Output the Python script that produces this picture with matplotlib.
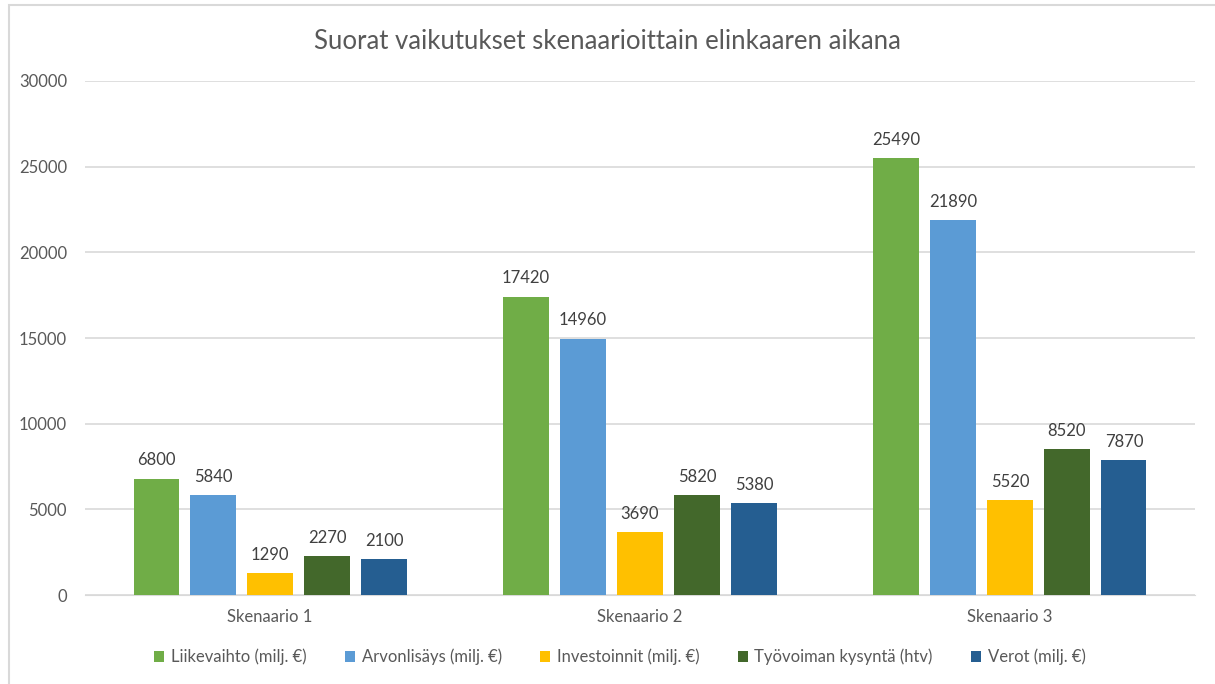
import numpy as np
import matplotlib.pyplot as plt
from matplotlib.patches import Rectangle

plt.rcParams['font.family'] = ['Lato', 'DejaVu Sans']

categories = ['Skenaario 1', 'Skenaario 2', 'Skenaario 3']
series_names = ['Liikevaihto (milj. €)', 'Arvonlisäys (milj. €)', 'Investoinnit (milj. €)',
                'Työvoiman kysyntä (htv)', 'Verot (milj. €)']
liikevaihto = [6800, 17420, 25490]
arvonlisays = [5840, 14960, 21890]
investoinnit = [1290, 3690, 5520]
tyovoima = [2270, 5820, 8520]
verot = [2100, 5380, 7870]
colors = ['#70AD47', '#5B9BD5', '#FFC000', '#43682B', '#255E91']

series = [liikevaihto, arvonlisays, investoinnit, tyovoima, verot]

fig = plt.figure(figsize=(12.15, 6.84), dpi=100)
ax = fig.add_axes([0.07, 0.13, 0.9135, 0.7516])

x = np.arange(len(categories))
step = 0.154
width = 0.122
text_col = '#595959'
for i, (vals, name, c) in enumerate(zip(series, series_names, colors)):
    pos = x + (i - 2) * step
    bars = ax.bar(pos, vals, width, color=c, label=name, zorder=3)
    for b, v in zip(bars, vals):
        ax.text(b.get_x() + b.get_width() / 2, v + 600, str(v), ha='center', va='bottom',
                fontsize=12, color='#404040')

ax.set_xlim(-0.5, 2.5)
ax.set_ylim(0, 30000)
ax.set_yticks(np.arange(0, 30001, 5000))
ax.set_xticks(x)
ax.set_xticklabels(categories)
ax.yaxis.grid(True, color='#D9D9D9', linewidth=1.2, zorder=0)
for s in ax.spines.values():
    s.set_visible(False)
ax.spines['bottom'].set_visible(True)
ax.spines['bottom'].set_color('#D9D9D9')
ax.tick_params(axis='both', length=0, labelsize=12, colors=text_col)
ax.tick_params(axis='y', pad=13)
ax.tick_params(axis='x', pad=10)

fig.suptitle('Suorat vaikutukset skenaarioittain elinkaaren aikana', y=0.958,
             fontsize=18.5, color=text_col)

ax.legend(loc='upper center', bbox_to_anchor=(0.482, -0.075), ncol=5, frameon=False,
          fontsize=12, labelcolor=text_col, handlelength=0.6, handleheight=0.6,
          columnspacing=2.3, handletextpad=0.4)

fig.patches.append(Rectangle((0.007, -0.01), 1.1, 1.003, transform=fig.transFigure,
                             fill=False, edgecolor='#D9D9D9', linewidth=1.5))

fig.savefig('out.png', dpi=100)
